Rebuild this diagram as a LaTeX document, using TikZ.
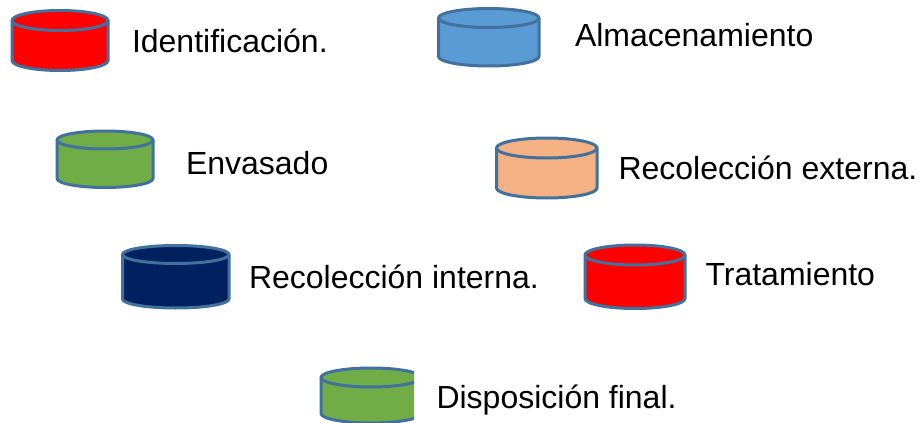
\documentclass[tikz,border=0pt]{standalone}
\usepackage{fontspec}
\setmainfont{Liberation Sans}
\definecolor{edgeblue}{HTML}{41719C}
\definecolor{fillred}{HTML}{FF0000}
\definecolor{fillgreen}{HTML}{70AD47}
\definecolor{fillblue}{HTML}{5B9BD5}
\definecolor{fillpeach}{HTML}{F4B183}
\definecolor{fillnavy}{HTML}{002060}
\tikzset{
  lbl/.style={anchor=base west,inner sep=0pt,outer sep=0pt,text=black,font=\fontsize{32}{38}\selectfont},
  barrel/.style={draw=edgeblue,line width=3pt,line join=round}
}
% #1 left, #2 right, #3 top, #4 height of the top ellipse, #5 bottom, #6 fill
\newcommand{\barrelshape}[6]{%
  \pgfmathsetmacro{\rx}{(#2-#1)/2}%
  \pgfmathsetmacro{\ry}{#4/2}%
  \pgfmathsetmacro{\ym}{#3+#4/2}%
  \pgfmathsetmacro{\yb}{#5-#4/2}%
  \draw[barrel,fill=#6] (#1,\ym) arc[start angle=180,end angle=360,x radius=\rx,y radius=\ry]
    -- (#2,\yb) arc[start angle=0,end angle=180,x radius=\rx,y radius=\ry] -- cycle;
  \draw[barrel] (#1,\ym) arc[start angle=180,end angle=0,x radius=\rx,y radius=\ry];
}
\begin{document}
\begin{tikzpicture}[x=1pt,y=-1pt]
\useasboundingbox (0,0) rectangle (919,423);
\fill[white] (0,0) rectangle (919,423);
\barrelshape{12}{108}{10.5}{20}{70.5}{fillred}
\barrelshape{57}{153}{131}{18}{187.5}{fillgreen}
\barrelshape{438.5}{539}{8.5}{19}{66}{fillblue}
\barrelshape{496.5}{597}{138}{20}{198}{fillpeach}
\barrelshape{122.5}{229}{245.5}{18}{308}{fillnavy}
\barrelshape{585}{685}{245}{20}{308.5}{fillred}
\begin{scope}
\clip (310,360) rectangle (414,423);
\barrelshape{321}{421}{368}{19}{423}{fillgreen}
\end{scope}
\node[lbl] (identificacion) at (132,52) {Identificación.};
\node[lbl] (almacenamiento) at (575,46.5) {Almacenamiento};
\node[lbl] (envasado) at (186,174) {Envasado};
\node[lbl] (externa) at (618.5,179.5) {Recolección externa.};
\node[lbl] (interna) at (249,288) {Recolección interna.};
\node[lbl] (tratamiento) at (705.5,285.5) {Tratamiento};
\node[lbl] (disposicion) at (436.5,408) {Disposición final.};
\end{tikzpicture}
\end{document}
